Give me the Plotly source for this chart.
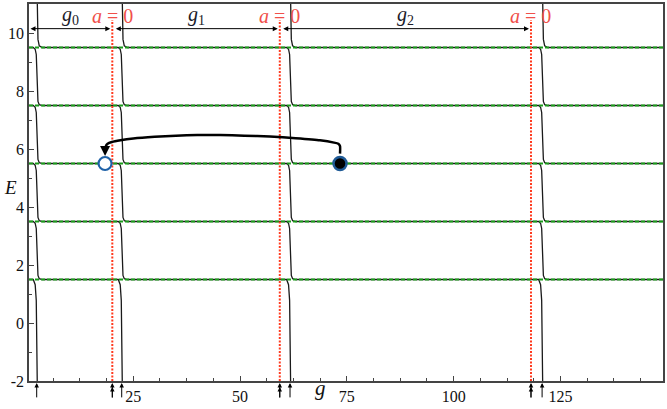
import plotly.graph_objects as go

# energy levels (flat parts of the branches)
levels = [1.5, 3.5, 5.5, 7.5, 9.5]
# g where every branch plunges down by one level
steps = [2.4, 22.3, 61.7, 120.7]
# g where a = 0 (red dotted lines)
a_zero = [20.1, 59.3, 118.1]
# shape of one plunge: g offset, fraction of the drop done
drop_dg = [-0.8, -0.35, -0.1, 0.3, 0.6, 1.3]
drop_frac = [0.0, 0.03, 0.12, 0.93, 0.985, 1.0]

# the jump between two states
jump_from = (73.4, 5.5)
jump_to = (18.4, 5.5)
arc_g = [73.4, 73.4, 73.0, 72.0, 68.7, 63.0, 57.0, 51.0, 45.3, 40.0, 35.0,
         30.0, 25.0, 22.0, 20.0, 19.0, 18.6, 18.6]
arc_E = [5.84, 6.10, 6.18, 6.22, 6.30, 6.37, 6.43, 6.46, 6.48, 6.48, 6.46,
         6.42, 6.36, 6.30, 6.24, 6.18, 6.10, 5.97]

G_MIN, G_MAX = 0.6, 149
E_MIN, E_MAX = -2, 11
E_TOP, E_BOT = 13.5, -4.5   # off-screen ends of the branches
RED_TOP = 10.45
ARROW_Y = 10.15

FONT = 'Liberation Serif'


def add_drop(xs, ys, s, hi, lo):
    for dg, f in zip(drop_dg, drop_frac):
        xs.append(s + dg)
        ys.append(hi - f * (hi - lo))


def branch(k, e, from_top=False):
    xs, ys = [], []
    if from_top:
        add_drop(xs, ys, steps[k - 1], E_TOP, e)
    else:
        xs.append(G_MIN)
        ys.append(e)
    while k < len(steps):
        lo = e - 2 if e - 2 >= levels[0] else E_BOT
        add_drop(xs, ys, steps[k], e, lo)
        if lo == E_BOT:
            return xs, ys
        e = lo
        k += 1
    xs.append(G_MAX)
    ys.append(e)
    return xs, ys


bx, by = [], []
starts = [(0, lv, False) for lv in levels] + [(k + 1, levels[-1], True) for k in range(len(steps))]
for k, e, top in starts:
    xs, ys = branch(k, e, top)
    bx += xs + [None]
    by += ys + [None]

fig = go.Figure()

fig.add_trace(go.Scatter(x=bx, y=by, mode='lines',
                         line=dict(color='#1a1a1a', width=1.3), hoverinfo='skip'))

for lv in levels:
    fig.add_trace(go.Scatter(x=[G_MIN, G_MAX], y=[lv, lv], mode='lines',
                             line=dict(color='#1c9c1c', width=2.2, dash='4px,2px'),
                             hoverinfo='skip'))

for a in a_zero:
    fig.add_trace(go.Scatter(x=[a, a], y=[E_MIN, RED_TOP], mode='lines',
                             line=dict(color='#ff3a1f', width=2, dash='2px,1.5px'),
                             hoverinfo='skip'))

fig.add_trace(go.Scatter(x=arc_g, y=arc_E, mode='lines',
                         line=dict(color='black', width=2.5, shape='spline', smoothing=0.5),
                         hoverinfo='skip'))

fig.add_trace(go.Scatter(x=[jump_from[0]], y=[jump_from[1]], mode='markers',
                         marker=dict(size=13, color='black',
                                     line=dict(color='#1f5a96', width=2.5))))
fig.add_trace(go.Scatter(x=[jump_to[0]], y=[jump_to[1]], mode='markers',
                         marker=dict(size=13, color='white',
                                     line=dict(color='#1f62a8', width=2.2))))

# arrow head of the jump
fig.add_annotation(x=jump_to[0], y=5.76, ax=jump_to[0], ay=6.0, axref='x', ayref='y',
                   xref='x', yref='y', text='', showarrow=True,
                   arrowhead=2, arrowsize=1, arrowwidth=2, arrowcolor='black')

# g0, g1, g2 intervals
bounds = [G_MIN] + a_zero
names = ['<i>g</i><sub>0</sub>', '<i>g</i><sub>1</sub>', '<i>g</i><sub>2</sub>']
for i, name in enumerate(names):
    left, right = bounds[i], bounds[i + 1]
    fig.add_annotation(x=right, y=ARROW_Y, ax=left, ay=ARROW_Y, axref='x', ayref='y',
                       xref='x', yref='y', text='', showarrow=True,
                       arrowside='end+start', arrowhead=2, arrowsize=1, arrowwidth=1,
                       arrowcolor='black', standoff=2,
                       startstandoff=2 if i > 0 else 0)
    fig.add_annotation(x=(left + right) / 2, y=10.6, text=name, showarrow=False,
                       font=dict(family=FONT, size=20, color='#1c1c2a'))

for a in a_zero:
    fig.add_annotation(x=a, y=10.6, text='<i>a</i>\u00a0=\u00a00', showarrow=False,
                       font=dict(family=FONT, size=20, color='#f0504a'))

# marks under the g axis (paper y so they are not hidden off-range)
TIP = -0.005
for s in steps:
    fig.add_annotation(x=s, y=TIP, xref='x', yref='paper', ax=0, ay=16,
                       text='', showarrow=True,
                       arrowhead=2, arrowsize=0.9, arrowwidth=1, arrowcolor='black')
for a in a_zero:
    for tip, ay in ((TIP, 16), (TIP - 0.011, 12)):
        fig.add_annotation(x=a, y=tip, xref='x', yref='paper', ax=0, ay=ay,
                           text='', showarrow=True,
                           arrowhead=2, arrowsize=0.9, arrowwidth=1, arrowcolor='black')

fig.add_annotation(x=-0.043, y=0.512, xref='paper', yref='paper', text='<i>E</i>',
                   xanchor='left', showarrow=False,
                   font=dict(family=FONT, size=19, color='#111'))
fig.add_annotation(x=0.459, y=-0.055, xref='paper', yref='paper', text='<i>g</i>',
                   showarrow=False, font=dict(family=FONT, size=21, color='#111'))

axis_style = dict(showgrid=False, zeroline=False, showline=True, linecolor='#444',
                  linewidth=1.5, mirror=True, ticks='inside', ticklen=5,
                  tickcolor='#444', tickwidth=1)

fig.update_xaxes(range=[G_MIN, G_MAX], tickmode='linear', tick0=0, dtick=25,
                 minor=dict(ticks='inside', tick0=0, dtick=6.25, ticklen=3,
                            tickcolor='#444'),
                 tickfont=dict(family=FONT, size=16),
                 **axis_style)
fig.update_yaxes(range=[E_MIN, E_MAX], tickmode='array',
                 tickvals=[-2, 0, 2, 4, 6, 8, 10],
                 ticktext=['-2', '0', '2', '4', '6', '8', '10'],
                 minor=dict(ticks='inside', tickmode='linear', tick0=0, dtick=1,
                            ticklen=3, tickcolor='#444'),
                 tickfont=dict(family=FONT, size=16),
                 **axis_style)

fig.update_layout(
    width=667, height=409,
    margin=dict(l=29, r=4, t=2, b=28),
    plot_bgcolor='white', paper_bgcolor='white',
    showlegend=False,
    font=dict(family=FONT, size=16, color='#111'),
)

fig.write_html("out.html", config={'displayModeBar': False},
               post_script="document.body.style.margin='0';")
